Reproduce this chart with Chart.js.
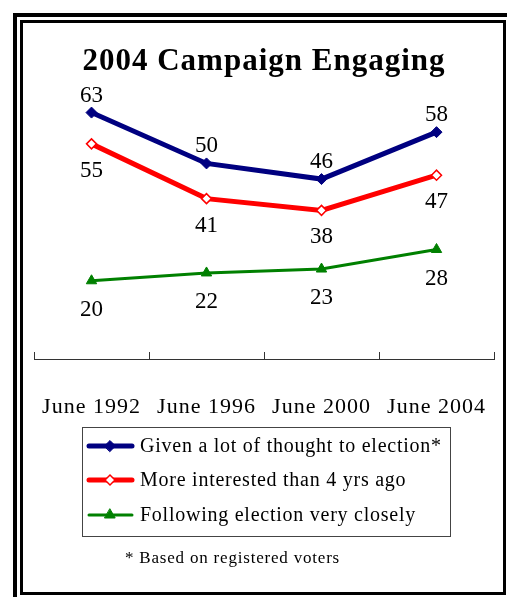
<!DOCTYPE html>
<html>
<head>
<meta charset="utf-8">
<script src="https://cdn.jsdelivr.net/npm/chart.js@4/dist/chart.umd.min.js"></script>
<style>
  body { margin: 0; background: #fff; overflow: hidden; }
  #outerFrame { position: absolute; left: 13px; top: 13px; width: 600px; height: 700px;
    border-left: 4px solid #000; border-top: 4px solid #000; }
  #innerFrame { position: absolute; left: 20px; top: 20px; width: 480px; height: 569px;
    border: 3px solid #000; }
  #chartBox { position: absolute; left: 0; top: 0; width: 507px; height: 597px; }
</style>
</head>
<body>
<div id="outerFrame"></div>
<div id="innerFrame"></div>
<div id="chartBox"><canvas id="engagingChart"></canvas></div>
<script>
// Data
const categories = ['June 1992', 'June 1996', 'June 2000', 'June 2004'];
const thoughtValues = [63, 50, 46, 58];
const interestedValues = [55, 41, 38, 47];
const followingValues = [20, 22, 23, 28];
const seriesNames = [
    'Given a lot of thought to election*',
    'More interested than 4 yrs ago',
    'Following election very closely'
];
const footnote = '* Based on registered voters';

const serif = "'Liberation Serif', 'Times New Roman', serif";

// The original text is set a bit loose, so widen the letter spacing
const textSpacing = {
    id: 'textSpacing',
    beforeDraw(chart) {
        chart.ctx.letterSpacing = '1px';
    }
};

// Value labels next to each point (offset in px: negative = above)
const valueLabels = {
    id: 'valueLabels',
    afterDatasetsDraw(chart) {
        const ctx = chart.ctx;
        ctx.save();
        ctx.letterSpacing = '0px';
        ctx.font = '23px ' + serif;
        ctx.fillStyle = '#000';
        ctx.textAlign = 'center';
        ctx.textBaseline = 'middle';
        chart.data.datasets.forEach((ds, i) => {
            chart.getDatasetMeta(i).data.forEach((pt, j) => {
                ctx.fillText(ds.data[j], pt.x, pt.y + ds.labelOffset);
            });
        });
        ctx.restore();
    }
};

// Boxed legend with line + marker samples, and the footnote
const boxLegend = {
    id: 'boxLegend',
    afterDraw(chart) {
        const ctx = chart.ctx;
        ctx.save();
        ctx.strokeStyle = '#444';
        ctx.lineWidth = 1;
        ctx.strokeRect(82.5, 427.5, 368, 109);
        const rows = [446, 480, 515];
        chart.data.datasets.forEach((ds, i) => {
            const y = rows[i];
            ctx.strokeStyle = ds.borderColor;
            ctx.lineWidth = ds.borderWidth;
            ctx.lineCap = 'round';
            ctx.beginPath();
            ctx.moveTo(89, y);
            ctx.lineTo(132, y);
            ctx.stroke();
            ctx.fillStyle = ds.pointBackgroundColor;
            ctx.strokeStyle = ds.pointBorderColor;
            ctx.lineWidth = ds.pointBorderWidth;
            Chart.helpers.drawPoint(ctx, {
                pointStyle: ds.pointStyle, radius: ds.pointRadius,
                rotation: 0, borderWidth: ds.pointBorderWidth
            }, 110, y);
            ctx.fillStyle = '#000';
            ctx.letterSpacing = '0.75px';
            ctx.font = '20px ' + serif;
            ctx.textAlign = 'left';
            ctx.textBaseline = 'middle';
            ctx.fillText(ds.label, 140, y + 1);
        });
        ctx.letterSpacing = '0.8px';
        ctx.font = '17px ' + serif;
        ctx.fillText(footnote, 125, 559);
        ctx.restore();
    }
};

const config = {
    type: 'line',
    data: {
        labels: categories,
        datasets: [{
            label: seriesNames[0],
            data: thoughtValues,
            borderColor: '#000080',
            borderWidth: 5,
            pointStyle: 'rectRot',
            pointRadius: 5.5,
            pointBackgroundColor: '#000080',
            pointBorderColor: '#000080',
            pointBorderWidth: 1,
            labelOffset: -17
        }, {
            label: seriesNames[1],
            data: interestedValues,
            borderColor: '#ff0000',
            borderWidth: 5,
            pointStyle: 'rectRot',
            pointRadius: 5,
            pointBackgroundColor: '#ffffff',
            pointBorderColor: '#ff0000',
            pointBorderWidth: 1.5,
            labelOffset: 27
        }, {
            label: seriesNames[2],
            data: followingValues,
            borderColor: '#008000',
            borderWidth: 3,
            pointStyle: 'triangle',
            pointRadius: 6,
            pointBackgroundColor: '#008000',
            pointBorderColor: '#008000',
            pointBorderWidth: 1,
            labelOffset: 29
        }]
    },
    options: {
        responsive: true,
        maintainAspectRatio: false,
        animation: false,
        layout: {
            autoPadding: false,
            padding: { left: 34, right: 13, top: 0, bottom: 135 }
        },
        plugins: {
            legend: { display: false },
            tooltip: { enabled: false },
            title: {
                display: true,
                text: '2004 Campaign Engaging',
                color: '#000',
                font: { family: serif, size: 31, weight: 'bold' },
                padding: { top: 43, bottom: 5 }
            }
        },
        scales: {
            x: {
                offset: true,
                grid: {
                    offset: true,
                    drawOnChartArea: false,
                    color: '#333',
                    tickLength: -7
                },
                border: { color: '#333', width: 1 },
                ticks: {
                    color: '#000',
                    padding: 0,
                    // tall line box pushes the labels well below the axis
                    font: { family: serif, size: 22, lineHeight: 5 }
                }
            },
            y: {
                display: false,
                min: 0,
                max: 70
            }
        }
    },
    plugins: [textSpacing, valueLabels, boxLegend]
};

const chartContext = document.getElementById('engagingChart').getContext('2d');
const engagingChart = new Chart(chartContext, config);
</script>
</body>
</html>
